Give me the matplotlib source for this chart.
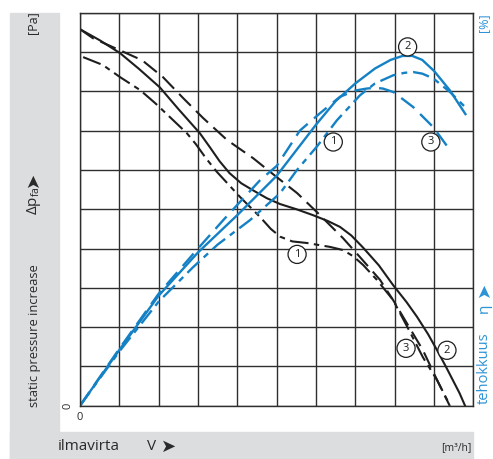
import matplotlib
matplotlib.use("Agg")
import matplotlib.pyplot as plt
from matplotlib.patches import Rectangle

plt.rcParams['font.family'] = ['Open Sans', 'DejaVu Sans']
plt.rcParams['mathtext.fontset'] = 'custom'
plt.rcParams['mathtext.rm'] = 'Open Sans'
plt.rcParams['mathtext.it'] = 'Open Sans'

# ---------------- data (axis units: 10 grid cells each way) ----------------
# static pressure curves (black)
p2_x = [0, 0.5, 1.02, 1.5, 2.03, 2.5, 3.05, 3.3, 3.55, 3.8, 4.1, 4.40, 4.75, 5.09, 5.5, 5.92, 6.3, 6.61, 6.9, 7.2, 7.6, 7.96, 8.3, 8.57, 8.85, 9.08, 9.3, 9.48, 9.65, 9.79]
p2_y = [9.58, 9.30, 8.97, 8.57, 8.10, 7.55, 6.93, 6.58, 6.22, 5.92, 5.66, 5.48, 5.28, 5.13, 5.00, 4.85, 4.70, 4.55, 4.33, 4.02, 3.57, 3.07, 2.64, 2.26, 1.82, 1.41, 1.00, 0.65, 0.32, 0.0]

p3_x = [0, 0.33, 0.89, 1.58, 2.11, 2.62, 3.13, 3.74, 4.40, 5.01, 5.52, 6.05, 6.69, 7.12, 7.63, 7.96, 8.31, 8.72, 9.08, 9.40]
p3_y = [9.58, 9.35, 9.10, 8.79, 8.36, 7.83, 7.32, 6.76, 6.30, 5.81, 5.41, 4.90, 4.26, 3.78, 3.20, 2.69, 2.10, 1.41, 0.65, 0.0]

p1_x = [0.08, 0.58, 1.02, 1.53, 1.91, 2.29, 2.72, 2.95, 3.2, 3.48, 4.07, 4.58, 4.85, 5.09, 5.4, 5.77, 6.36, 6.69, 6.95, 7.20, 7.55, 7.96, 8.34, 8.72, 9.08, 9.41]
p1_y = [8.87, 8.67, 8.36, 8.03, 7.70, 7.34, 6.93, 6.65, 6.30, 5.95, 5.31, 4.80, 4.50, 4.30, 4.18, 4.14, 4.04, 3.96, 3.80, 3.58, 3.20, 2.69, 1.97, 1.23, 0.65, 0.0]

# efficiency curves (blue)
e2_x = [0, 1.0, 2.0, 3.0, 4.0, 5.0, 5.5, 6.0, 6.5, 7.0, 7.5, 7.9, 8.2, 8.45, 8.7, 9.0, 9.4, 9.8]
e2_y = [0, 1.42, 2.80, 3.90, 4.85, 5.85, 6.50, 7.15, 7.75, 8.20, 8.58, 8.80, 8.90, 8.90, 8.80, 8.52, 8.03, 7.42]

e3_x = [0, 1.0, 2.0, 3.0, 3.64, 4.58, 5.0, 5.59, 6.1, 6.61, 7.0, 7.29, 7.5, 7.7, 7.97, 8.47, 8.98, 9.41]
e3_y = [0, 1.45, 2.85, 4.00, 4.72, 5.74, 6.10, 7.00, 7.44, 7.86, 8.02, 8.07, 8.09, 8.07, 7.98, 7.60, 7.09, 6.50]

e1_x = [0, 1.0, 2.0, 2.87, 3.5, 4.32, 5.09, 5.51, 6.02, 6.53, 7.12, 7.5, 7.97, 8.25, 8.47, 8.7, 8.98, 9.41, 9.79]
e1_y = [0, 1.38, 2.65, 3.52, 4.10, 4.72, 5.41, 5.99, 6.59, 7.26, 7.90, 8.20, 8.41, 8.47, 8.49, 8.45, 8.33, 7.98, 7.60]

# curve labels: (text, x, y)
black_labels = [("1", 5.52, 3.85), ("3", 8.29, 1.46), ("2", 9.33, 1.41)]
blue_labels = [("2", 8.33, 9.13), ("3", 8.92, 6.71), ("1", 6.44, 6.71)]

# ---------------- figure ----------------
W, H = 493, 459
fig = plt.figure(figsize=(W / 100, H / 100), dpi=100)

def fx(x):
    return x / W

def fy(y):
    return 1 - y / H

grey = '#dcdddf'
fig.patches.append(Rectangle((fx(10), fy(459)), (59 - 10) / W, (459 - 12.7) / H,
                             transform=fig.transFigure, color=grey, zorder=0))
fig.patches.append(Rectangle((fx(10), fy(459)), (473 - 10) / W, (459 - 431.7) / H,
                             transform=fig.transFigure, color=grey, zorder=0))

ax = fig.add_axes([fx(80), fy(405.7), (473.3 - 80) / W, (405.7 - 12.7) / H])
ax.set_xlim(0, 10)
ax.set_ylim(0, 10)
ax.set_xticks(range(11))
ax.set_yticks(range(11))
ax.tick_params(length=0, labelbottom=False, labelleft=False)
ax.grid(True, color='#2e2e2e', lw=1.0)
for s in ax.spines.values():
    s.set_color('#2e2e2e')
    s.set_linewidth(1.0)
ax.set_axisbelow(True)

blk = '#1e1e1e'
blue = '#1581c5'
ax.plot(p2_x, p2_y, color=blk, lw=1.5, solid_joinstyle='round')
ax.plot(p3_x, p3_y, color=blk, lw=1.5, dashes=(8, 3.5))
ax.plot(p1_x, p1_y, color=blk, lw=1.5, dashes=(9, 2.6, 2.6, 2.6))

ax.plot(e2_x, e2_y, color=blue, lw=1.7, solid_joinstyle='round')
ax.plot(e3_x, e3_y, color=blue, lw=1.7, dashes=(7, 3.5))
ax.plot(e1_x, e1_y, color=blue, lw=1.7, dashes=(7, 2.5, 2.5, 2.5))

for t, x, y in black_labels + blue_labels:
    ax.text(x, y, t, ha='center', va='center', fontsize=8, color=blk,
            bbox=dict(boxstyle='circle,pad=0.32', fc='white', ec=blk, lw=0.9), zorder=5)

# ---------------- texts ----------------
tc = '#2a2a2a'
bc = '#2b93d6'
fs = 11
fig.text(fx(33), fy(23), '[Pa]', rotation=90, ha='center', va='center', fontsize=9, color=tc)
fig.text(fx(33), fy(179), '➤', rotation=90, ha='center', va='center', fontsize=13, color=tc,
         family='DejaVu Sans')
fig.text(fx(34), fy(201), r'$\Delta\mathrm{p}_{\mathrm{fa}}$', rotation=90, ha='center', va='center',
         fontsize=fs, color=tc)
fig.text(fx(35), fy(336), 'static pressure increase', rotation=90, ha='center', va='center',
         fontsize=9.3, color=tc)
fig.text(fx(68), fy(405.5), '0', rotation=90, ha='center', va='center', fontsize=8, color=tc)
fig.text(fx(80), fy(418), '0', ha='center', va='center', fontsize=8, color=tc)

fig.text(fx(58), fy(447), 'ilmavirta', ha='left', va='center', fontsize=fs, color=tc)
fig.text(fx(147), fy(447), 'V', ha='left', va='center', fontsize=fs, color=tc)
fig.text(fx(161), fy(447), '➤', ha='left', va='center', fontsize=13, color=tc, family='DejaVu Sans')
fig.text(fx(472), fy(448), '[m³/h]', ha='right', va='center', fontsize=7.5, color=tc)

fig.text(fx(484), fy(23), '[%]', rotation=90, ha='center', va='center', fontsize=9, color=bc)
fig.text(fx(484), fy(289), '➤', rotation=90, ha='center', va='center', fontsize=13, color=bc,
         family='DejaVu Sans')
fig.text(fx(484), fy(308), 'η', rotation=90, ha='center', va='center', fontsize=fs, color=bc)
fig.text(fx(484), fy(368), 'tehokkuus', rotation=90, ha='center', va='center', fontsize=10.5, color=bc)

fig.savefig('out.png', dpi=100)
